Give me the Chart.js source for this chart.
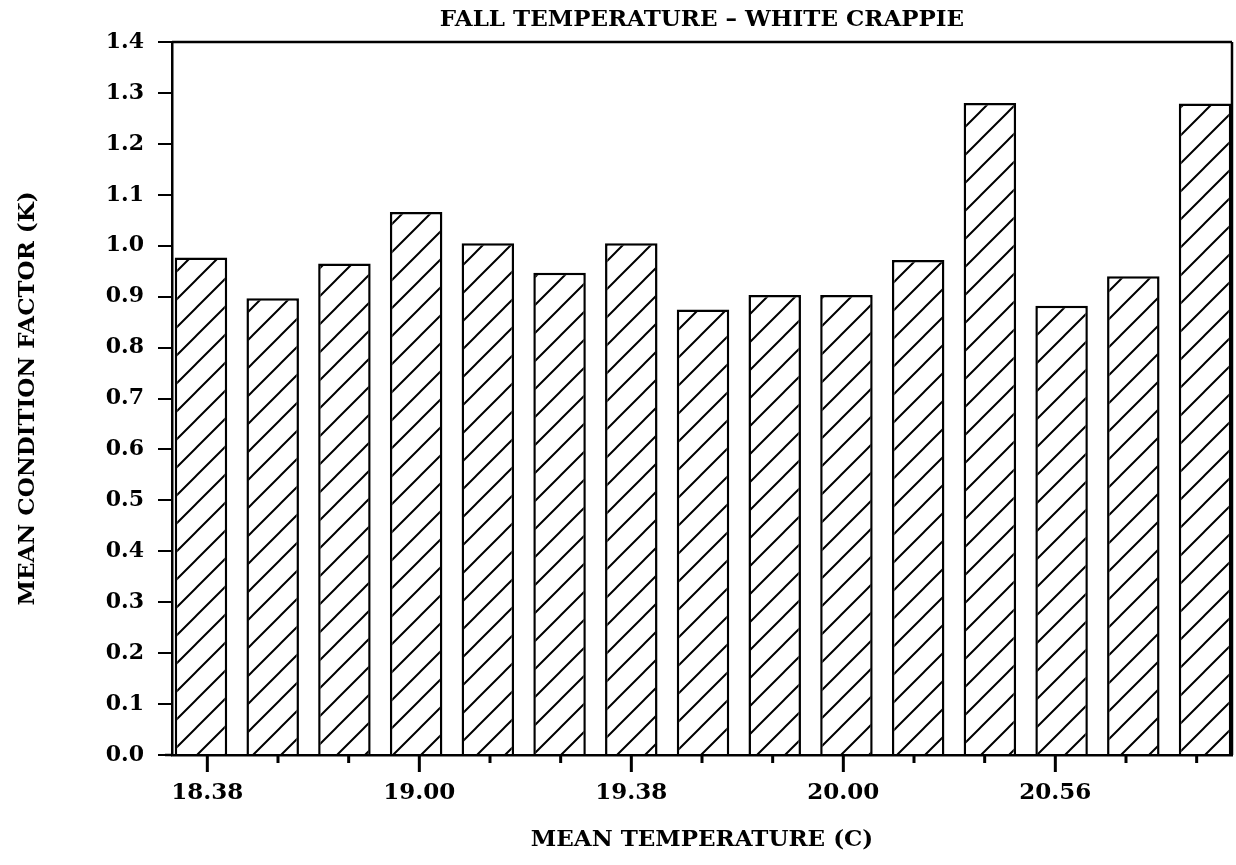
<!DOCTYPE html>
<html>
<head>
<meta charset="utf-8">
<script src="https://cdn.jsdelivr.net/npm/chart.js@4.4.1/dist/chart.umd.min.js"></script>
<style>
  body { margin: 0; background: #fff; }
  #wrap { width: 1236px; height: 865px; }
</style>
</head>
<body>
<div id="wrap"><canvas id="myChart" width="1236" height="865"></canvas></div>
<script>
// bar positions (one bar per sample) and mean condition factor K
const barIndex = [1, 2, 3, 4, 5, 6, 7, 8, 9, 10, 11, 12, 13, 14, 15];
const conditionK = [0.977, 0.897, 0.965, 1.066, 1.005, 0.947, 1.005, 0.875, 0.903, 0.903, 0.972, 1.280, 0.882, 0.940, 1.279];
// temperature tick labels along the bottom axis (only every third tick is labelled)
const tempTicks = ['18.38', '', '', '19.00', '', '', '19.38', '', '', '20.00', '', '', '20.56', '', ''];
const yTicks = [0.0, 0.1, 0.2, 0.3, 0.4, 0.5, 0.6, 0.7, 0.8, 0.9, 1.0, 1.1, 1.2, 1.3, 1.4];

const FONT = "'DejaVu Serif', 'Liberation Serif', serif";

function hatch() {
  const s = 28;
  const c = document.createElement('canvas');
  c.width = s; c.height = s;
  const g = c.getContext('2d');
  g.fillStyle = '#fff';
  g.fillRect(0, 0, s, s);
  g.strokeStyle = '#000';
  g.lineWidth = 2;
  g.beginPath();
  g.moveTo(0, s); g.lineTo(s, 0);
  g.moveTo(-s / 4, s / 4); g.lineTo(s / 4, -s / 4);
  g.moveTo(s * 3 / 4, s * 5 / 4); g.lineTo(s * 5 / 4, s * 3 / 4);
  g.stroke();
  return g.createPattern(c, 'repeat');
}

const frame = {
  id: 'frame',
  afterDraw(chart) {
    const ctx = chart.ctx;
    const a = chart.chartArea;
    const xt = chart.scales.xt;
    ctx.save();
    ctx.strokeStyle = '#000';
    ctx.lineWidth = 2.5;
    ctx.beginPath();
    ctx.moveTo(a.left, a.top);
    ctx.lineTo(a.right, a.top);
    ctx.moveTo(a.right, a.top);
    ctx.lineTo(a.right, a.bottom);
    ctx.moveTo(a.left - 7, a.bottom);
    ctx.lineTo(a.left, a.bottom);
    ctx.stroke();
    // temperature ticks: long under labelled ones, short elsewhere
    ctx.lineWidth = 3;
    ctx.beginPath();
    for (let i = 0; i < tempTicks.length; i++) {
      const x = xt.getPixelForValue(i);
      const len = tempTicks[i] !== '' ? 17 : 8;
      ctx.moveTo(x, a.bottom);
      ctx.lineTo(x, a.bottom + len);
    }
    ctx.stroke();
    // title centred over the plot
    ctx.fillStyle = '#000';
    ctx.font = 'bold 23px ' + FONT;
    ctx.textAlign = 'center';
    ctx.textBaseline = 'middle';
    ctx.fillText('FALL TEMPERATURE \u2013 WHITE CRAPPIE', (a.left + a.right) / 2, 20);
    ctx.restore();
  }
};

new Chart(document.getElementById('myChart'), {
  type: 'bar',
  data: {
    datasets: [{
      data: barIndex.map((x, i) => ({ x: x, y: conditionK[i] })),
      backgroundColor: hatch(),
      borderColor: '#000',
      borderWidth: 2.5,
      barPercentage: 0.732,
      categoryPercentage: 1,
      xAxisID: 'x',
      yAxisID: 'y'
    }]
  },
  options: {
    responsive: false,
    animation: false,
    layout: { padding: { top: 42, right: 4, left: 0, bottom: 0 } },
    plugins: {
      legend: { display: false },
      tooltip: { enabled: false }
    },
    scales: {
      x: {
        type: 'linear',
        display: false,
        offset: false,
        min: 0.596,
        max: 15.376
      },
      xt: {
        type: 'category',
        position: 'bottom',
        labels: tempTicks,
        offset: true,
        afterFit(scale) { scale.height = 110; },
        border: { display: true, color: '#000', width: 2.5 },
        grid: {
          offset: false,
          drawOnChartArea: false,
          tickLength: 20,
          color: 'rgba(0,0,0,0)'
        },
        ticks: {
          autoSkip: false,
          maxRotation: 0,
          padding: 4,
          color: '#000',
          font: { family: FONT, size: 23, weight: 'bold' }
        },
        title: {
          display: true,
          text: 'MEAN TEMPERATURE (C)',
          color: '#000',
          font: { family: FONT, size: 23, weight: 'bold' },
          padding: { top: 0, bottom: 11 }
        }
      },
      y: {
        min: 0,
        max: 1.4,
        afterFit(scale) { scale.width = 172; },
        afterBuildTicks(scale) { scale.ticks = yTicks.map(v => ({ value: v })); },
        border: { display: true, color: '#000', width: 2.5 },
        grid: {
          drawOnChartArea: false,
          tickLength: 14,
          lineWidth: 2,
          color: '#000'
        },
        ticks: {
          padding: 14,
          color: '#000',
          font: { family: FONT, size: 22, weight: 'bold' },
          callback: (v) => Number(v).toFixed(1)
        },
        title: {
          display: true,
          text: 'MEAN CONDITION FACTOR (K)',
          color: '#000',
          font: { family: FONT, size: 23, weight: 'bold' },
          padding: { top: 14, bottom: 0 }
        }
      }
    }
  },
  plugins: [frame]
});
</script>
</body>
</html>
